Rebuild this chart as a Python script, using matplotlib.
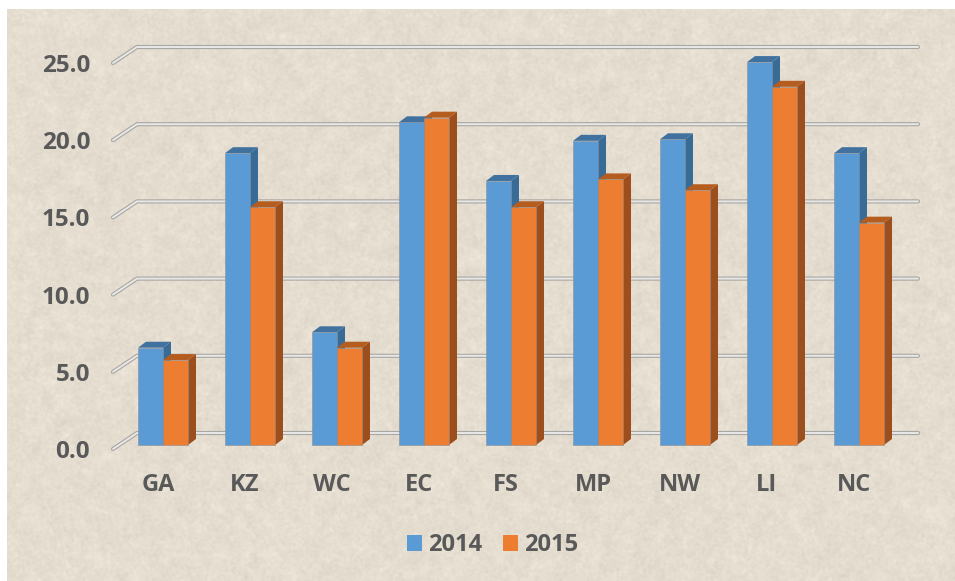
import numpy as np
import matplotlib
matplotlib.use("Agg")
import matplotlib.pyplot as plt
from matplotlib.patches import Polygon, Patch
from matplotlib.transforms import ScaledTranslation

categories = ["GA", "KZ", "WC", "EC", "FS", "MP", "NW", "LI", "NC"]
values_2014 = [6.3, 18.9, 7.3, 20.9, 17.1, 19.7, 19.8, 24.8, 18.9]
values_2015 = [5.5, 15.4, 6.3, 21.2, 15.4, 17.2, 16.5, 23.2, 14.4]
y_ticks = [0, 5, 10, 15, 20, 25]

W, H = 955, 581
plt.rcParams["font.family"] = ["Open Sans", "DejaVu Sans"]
fig = plt.figure(figsize=(W / 100, H / 100), dpi=100, facecolor="white")


def px_box(x0, y_top, x1, y_bot):
    return [x0 / W, 1 - y_bot / H, (x1 - x0) / W, (y_bot - y_top) / H]


# decorative paper texture (background only, carries no data)
bg_x0, bg_y0, bg_x1, bg_y1 = 7, 9, 955, 581
bg = fig.add_axes(px_box(bg_x0, bg_y0, bg_x1, bg_y1), zorder=0)
bg.axis("off")
rng = np.random.default_rng(3)
h, w = bg_y1 - bg_y0, bg_x1 - bg_x0
fy, fx = np.fft.fftfreq(h)[:, None], np.fft.fftfreq(w)[None, :]
r2 = fx ** 2 + fy ** 2
def blur(sigma):
    n = rng.standard_normal((h, w))
    out = np.fft.ifft2(np.fft.fft2(n) * np.exp(-2 * (np.pi * sigma) ** 2 * r2)).real
    return out / out.std()
tex = 2.2 * blur(1.0) + 1.6 * blur(4)
base = np.array([228, 221, 208], float)
img = np.clip(base[None, None, :] + tex[..., None], 0, 255) / 255
bg.imshow(img, aspect="auto", interpolation="bilinear")

# plot area in pixels
x_left, x_right = 113, 918
y_zero, y_top = 445, 59
cat_step = 87.0
first_center = 163.0
px_per_unit = (y_zero - y_top) / 25
ax = fig.add_axes(px_box(x_left, y_top, x_right, y_zero), zorder=1)
ax.patch.set_alpha(0)
ax.set_xlim((x_left - first_center) / cat_step, (x_right - first_center) / cat_step)
ax.set_ylim(0, 25)
for s in ax.spines.values():
    s.set_visible(False)

bar_w = 25 / cat_step
dx = 8 / cat_step
dy = 6 / px_per_unit

# walls' gridlines with a perspective stub
grid_fx = (113 - first_center) / cat_step
grid_bx = (137 - first_center) / cat_step
grid_rx = (918 - first_center) / cat_step
for v in y_ticks:
    xs = [grid_fx, grid_bx, grid_rx]
    ys = [v - 4 / px_per_unit + 0, v + 12 / px_per_unit, v + 12 / px_per_unit]
    for lw, col in ((3.0, "#A9A7A3"), (1.4, "#E9E8E6")):
        ax.plot(xs, ys, color=col, lw=lw, clip_on=False, zorder=1,
                solid_joinstyle="round", solid_capstyle="round")

front = {"2014": "#5B9BD5", "2015": "#ED7D31"}
side = {"2014": "#396B97", "2015": "#9C4E1C"}
top = {"2014": "#41729F", "2015": "#B55C1F"}


def draw_bar(x0, v, key, z):
    x1 = x0 + bar_w
    ax.bar(x0, v, bar_w, align="edge", color=front[key], edgecolor="#8C8F92",
           linewidth=0.4, zorder=z + 0.2, clip_on=False)
    ax.add_patch(Polygon([(x1, 0), (x1 + dx, dy), (x1 + dx, v + dy), (x1, v)],
                         closed=True, fc=side[key], ec="none", zorder=z, clip_on=False))
    ax.add_patch(Polygon([(x0, v), (x0 + dx, v + dy), (x1 + dx, v + dy), (x1, v)],
                         closed=True, fc=top[key], ec="none", zorder=z + 0.1, clip_on=False))


z = 2
for i, (a, b) in enumerate(zip(values_2014, values_2015)):
    draw_bar(i - bar_w, a, "2014", z)
    draw_bar(i, b, "2015", z + 1)
    z += 2

ax.set_xticks(range(len(categories)), categories)
ax.set_yticks(y_ticks, [f"{v:.1f}" for v in y_ticks])
ax.tick_params(length=0)
ax.tick_params(axis="x", pad=20.5, labelsize=17, labelcolor="#595959")
ax.tick_params(axis="y", pad=16.5, labelsize=17.5, labelcolor="#595959")
for t in ax.get_xticklabels() + ax.get_yticklabels():
    t.set_fontweight("bold")
for t in ax.get_yticklabels():
    t.set_transform(t.get_transform() + ScaledTranslation(0, -4 / 100, fig.dpi_scale_trans))
for t in ax.get_xticklabels():
    t.set_transform(t.get_transform() + ScaledTranslation(-5 / 100, 0, fig.dpi_scale_trans))

handles = [Patch(fc=front["2014"], ec="none", label="2014"),
           Patch(fc=front["2015"], ec="none", label="2015")]
leg = ax.legend(handles=handles, loc="center", ncol=2, frameon=False,
                bbox_to_anchor=(492.5 / W, 1 - 545 / H), bbox_transform=fig.transFigure,
                prop={"weight": "bold", "size": 17}, labelcolor="#595959",
                handlelength=0.64, handleheight=0.64, handletextpad=0.25, columnspacing=0.85)

fig.savefig("out.png", dpi=100, facecolor="white")
